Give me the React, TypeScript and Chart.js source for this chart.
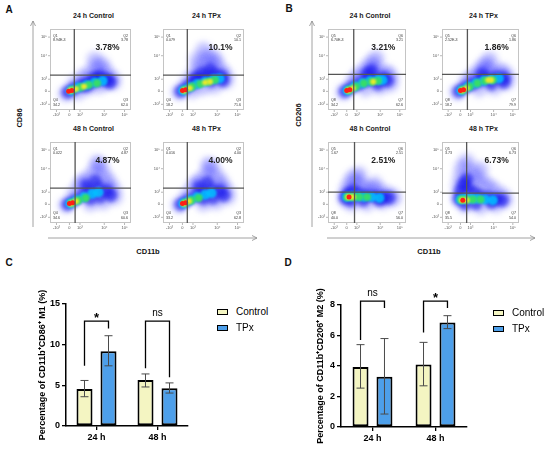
import React, { useEffect, useRef } from "react";
import { Chart, registerables } from "chart.js";

Chart.register(...registerables);

const FONT = "'Liberation Sans', Arial, Helvetica, sans-serif";
Chart.defaults.font.family = FONT;

type Pt = [number, number, number];

// flow density clouds: [CD11b %, marker %, level]
// level 0 = sparse blue ... 5 = red core
const A1_CLOUD: Pt[] = [
  [20, 20, 0], [30, 32, 0], [40, 40, 0], [50, 46, 0], [58, 52, 0], [64, 56, 0], [68, 48, 0], [76, 40, 0],
  [78, 34, 0], [62, 30, 0], [48, 28, 0], [35, 22, 0], [55, 62, 0], [70, 36, 0], [45, 36, 0],
  [22, 22, 1], [30, 27, 1], [40, 31, 1], [50, 34, 1], [60, 37, 1], [70, 38, 1], [74, 34, 1], [62, 42, 1],
  [55, 40, 1], [45, 30, 1],
  [26, 24, 2], [35, 28, 2], [45, 31, 2], [55, 34, 2], [65, 36, 2],
  [28, 25, 3], [38, 28, 3], [48, 31, 3], [58, 33, 3],
  [25, 24, 4], [32, 26, 4], [42, 29, 4],
  [23, 23, 5], [27, 24, 5],
];
const A2_CLOUD: Pt[] = [
  [20, 22, 0], [30, 34, 0], [38, 44, 0], [45, 52, 0], [52, 60, 0], [58, 66, 0], [50, 74, 0], [62, 56, 0],
  [70, 50, 0], [76, 44, 0], [78, 36, 0], [64, 30, 0], [50, 28, 0], [36, 24, 0], [42, 62, 0], [65, 62, 0],
  [22, 23, 1], [30, 29, 1], [38, 34, 1], [46, 38, 1], [55, 42, 1], [64, 44, 1], [72, 42, 1], [74, 36, 1],
  [60, 36, 1], [48, 46, 1], [58, 50, 1], [40, 40, 1],
  [25, 24, 2], [33, 28, 2], [42, 32, 2], [52, 35, 2], [62, 38, 2], [70, 39, 2],
  [27, 25, 3], [36, 29, 3], [46, 32, 3], [56, 35, 3], [64, 37, 3],
  [26, 24, 4], [33, 27, 4], [58, 35, 4], [52, 34, 4],
  [24, 24, 5], [28, 25, 5],
];
const A3_CLOUD: Pt[] = [
  [20, 22, 0], [30, 36, 0], [38, 46, 0], [46, 54, 0], [54, 62, 0], [62, 70, 0], [66, 60, 0], [72, 52, 0],
  [78, 42, 0], [80, 32, 0], [66, 26, 0], [50, 24, 0], [40, 50, 0], [58, 74, 0], [70, 44, 0],
  [22, 23, 1], [30, 28, 1], [40, 34, 1], [50, 40, 1], [60, 44, 1], [70, 40, 1], [75, 34, 1], [62, 32, 1],
  [50, 30, 1], [56, 52, 1], [45, 46, 1],
  [25, 24, 2], [33, 28, 2], [42, 32, 2], [52, 36, 2], [60, 38, 2],
  [27, 25, 3], [35, 28, 3], [44, 31, 3],
  [26, 24, 4], [32, 27, 4],
  [24, 24, 5], [28, 25, 5],
];
const A4_CLOUD: Pt[] = [
  [20, 22, 0], [30, 34, 0], [38, 44, 0], [46, 52, 0], [54, 60, 0], [60, 68, 0], [66, 58, 0], [72, 50, 0],
  [78, 40, 0], [80, 32, 0], [66, 26, 0], [50, 24, 0], [42, 48, 0], [56, 72, 0], [70, 44, 0],
  [22, 23, 1], [30, 28, 1], [40, 33, 1], [50, 38, 1], [60, 42, 1], [70, 40, 1], [75, 34, 1], [62, 31, 1],
  [50, 30, 1], [55, 50, 1], [45, 44, 1],
  [25, 24, 2], [33, 28, 2], [42, 32, 2], [52, 35, 2], [60, 37, 2],
  [27, 25, 3], [35, 28, 3], [44, 31, 3],
  [26, 24, 4], [32, 27, 4],
  [24, 24, 5], [28, 25, 5],
];
const B1_CLOUD: Pt[] = [
  [20, 22, 0], [32, 34, 0], [42, 44, 0], [50, 52, 0], [56, 58, 0], [62, 64, 0], [60, 52, 0], [54, 46, 0],
  [70, 44, 0], [80, 40, 0], [80, 32, 0], [66, 28, 0], [48, 26, 0], [38, 40, 0], [76, 46, 0],
  [22, 23, 1], [30, 28, 1], [40, 32, 1], [50, 36, 1], [60, 38, 1], [70, 40, 1], [76, 36, 1], [64, 32, 1],
  [50, 44, 1], [56, 48, 1],
  [25, 24, 2], [34, 29, 2], [44, 33, 2], [54, 36, 2], [64, 37, 2], [70, 37, 2],
  [27, 25, 3], [36, 29, 3], [46, 33, 3], [56, 35, 3], [64, 36, 3],
  [26, 24, 4], [32, 27, 4], [58, 35, 4],
  [24, 24, 5], [28, 25, 5],
];
const B2_CLOUD: Pt[] = [
  [20, 22, 0], [32, 34, 0], [42, 42, 0], [50, 50, 0], [56, 56, 0], [62, 62, 0], [60, 50, 0], [54, 46, 0],
  [72, 46, 0], [84, 42, 0], [84, 34, 0], [68, 28, 0], [48, 26, 0], [38, 38, 0], [78, 48, 0],
  [22, 23, 1], [30, 28, 1], [40, 32, 1], [50, 36, 1], [60, 39, 1], [70, 41, 1], [80, 40, 1], [80, 34, 1],
  [64, 32, 1], [52, 44, 1],
  [25, 24, 2], [34, 29, 2], [44, 33, 2], [54, 36, 2], [64, 38, 2], [74, 39, 2],
  [27, 25, 3], [36, 29, 3], [46, 33, 3], [56, 36, 3], [66, 37, 3],
  [26, 24, 4], [32, 27, 4], [60, 37, 4], [64, 37, 4],
  [24, 24, 5], [28, 25, 5],
];
const B3_CLOUD: Pt[] = [
  [22, 30, 0], [24, 40, 0], [28, 48, 0], [32, 56, 0], [38, 50, 0], [44, 44, 0], [52, 42, 0], [60, 40, 0],
  [70, 38, 0], [80, 34, 0], [84, 30, 0], [70, 26, 0], [50, 24, 0], [30, 24, 0], [40, 60, 0], [60, 48, 0],
  [22, 31, 1], [26, 36, 1], [32, 40, 1], [40, 36, 1], [50, 34, 1], [60, 33, 1], [70, 32, 1], [78, 31, 1],
  [66, 28, 1], [45, 28, 1], [30, 28, 1],
  [24, 32, 2], [30, 33, 2], [38, 33, 2], [46, 32, 2], [56, 32, 2], [66, 31, 2],
  [25, 32, 3], [32, 32, 3], [40, 32, 3], [50, 32, 3],
  [26, 32, 4], [32, 32, 4],
  [27, 32, 5],
];
const B4_CLOUD: Pt[] = [
  [22, 30, 0], [22, 44, 0], [24, 56, 0], [26, 68, 0], [32, 76, 0], [38, 64, 0], [44, 56, 0], [52, 50, 0],
  [60, 46, 0], [68, 40, 0], [78, 34, 0], [82, 28, 0], [70, 22, 0], [50, 20, 0], [30, 22, 0], [50, 66, 0],
  [36, 48, 0],
  [22, 30, 1], [24, 40, 1], [28, 48, 1], [34, 42, 1], [42, 38, 1], [50, 34, 1], [60, 32, 1], [70, 30, 1],
  [78, 28, 1], [64, 25, 1], [44, 24, 1], [30, 24, 1], [32, 54, 1],
  [24, 29, 2], [30, 30, 2], [38, 30, 2], [46, 30, 2], [56, 29, 2], [66, 28, 2],
  [25, 29, 3], [32, 29, 3], [40, 29, 3], [50, 29, 3],
  [26, 28, 4], [32, 28, 4],
  [27, 28, 5],
];

// quadrant gates [x %, y %]
const A_GATES = [[30, 43], [30, 43], [31, 43], [30, 43]];
const B_GATES = [[33, 44], [33, 44], [34, 38], [32, 37]];

const A_QNAMES = ["Q1", "Q2", "Q4", "Q3"];
const B_QNAMES = ["Q5", "Q6", "Q8", "Q7"];
const A_QVALUES = [
  ["8.94E-3", "3.78", "34.2", "62.0"],
  ["0.079", "10.1", "18.2", "71.6"],
  ["0.022", "4.87", "34.6", "60.6"],
  ["0.016", "4.00", "33.2", "62.8"],
];
const B_QVALUES = [
  ["6.70E-3", "3.21", "34.2", "62.6"],
  ["2.52E-3", "1.86", "18.2", "79.9"],
  ["1.67", "2.51", "40.0", "56.0"],
  ["3.73", "6.73", "35.5", "54.0"],
];
const FLOW_TITLES = ["24 h Control", "24 h TPx", "48 h Control", "48 h TPx"];
const FLOW_XTICKS = [8, 24, 37, 67, 92];
const FLOW_YTICKS = [7, 23, 38, 67, 90];
const FLOW_TICK_LABELS = ["-10³", "0", "10³", "10⁴", "10⁵"];

const LEVEL_COLORS = [
  "rgba(60,60,255,0.3)",
  "rgba(25,25,235,0.65)",
  "rgba(0,195,255,0.85)",
  "rgba(60,225,90,0.9)",
  "rgba(240,235,40,0.95)",
  "rgba(255,30,20,1)",
];
const LEVEL_RADII = [8, 6.5, 5, 4, 3, 2.5];
const LEVEL_BLUR = [3, 2, 1.2, 1, 0.8, 0.6];

// bar charts
const TIMES = ["24 h", "48 h"];
const GROUPS = ["Control", "TPx"];

const M1_CTRL = [4.55, 5.65];
const M1_TPX = [9.2, 4.65];
const M1_LO = [[3.6, 4.8], [7.4, 4.05]];
const M1_HI = [[5.6, 6.4], [11.1, 5.3]];
const M1_BR_TOP = [12.9, 12.9];
const M1_BR_LEFT = [7.4, 7.1];
const M1_BR_RIGHT = [12.0, 6.0];
const M1_SIG = ["*", "ns"];

const M2_CTRL = [3.93, 4.1];
const M2_TPX = [3.3, 6.85];
const M2_LO = [[2.55, 2.7], [0.85, 6.45]];
const M2_HI = [[5.4, 5.55], [5.8, 7.3]];
const M2_BR_TOP = [8.26, 8.26];
const M2_BR_LEFT = [5.7, 6.2];
const M2_BR_RIGHT = [7.8, 7.8];
const M2_SIG = ["ns", "*"];

const CTRL_COLOR = "#f4f5c2";
const TPX_COLOR = "#4d9fea";

function flowDecor(gate: number[], names: string[], quad: string[]) {
  return {
    id: "flowDecor",
    beforeDatasetDraw(chart: any, args: any) {
      chart.ctx.filter = `blur(${LEVEL_BLUR[args.index]}px)`;
    },
    afterDatasetDraw(chart: any) {
      chart.ctx.filter = "none";
    },
    afterDatasetsDraw(chart: any) {
      const { ctx, chartArea: a, scales } = chart;
      const sx = scales.x;
      const sy = scales.y;
      const w = a.right - a.left;
      const h = a.bottom - a.top;
      ctx.save();
      ctx.filter = "none";
      ctx.strokeStyle = "#c4c4c4";
      ctx.lineWidth = 1;
      ctx.strokeRect(a.left + 0.5, a.top + 0.5, w - 1, h - 1);

      const gx = sx.getPixelForValue(gate[0]);
      const gy = sy.getPixelForValue(gate[1]);
      ctx.strokeStyle = "#555";
      ctx.lineWidth = 1.3;
      ctx.beginPath();
      ctx.moveTo(gx, a.top);
      ctx.lineTo(gx, a.bottom);
      ctx.moveTo(a.left, gy);
      ctx.lineTo(a.right, gy);
      ctx.stroke();

      ctx.strokeStyle = "#888";
      ctx.lineWidth = 0.6;
      ctx.fillStyle = "#555";
      ctx.font = `4px ${FONT}`;
      ctx.textAlign = "center";
      ctx.textBaseline = "top";
      FLOW_XTICKS.forEach((v, i) => {
        const px = sx.getPixelForValue(v);
        ctx.beginPath();
        ctx.moveTo(px, a.bottom);
        ctx.lineTo(px, a.bottom + 2);
        ctx.stroke();
        ctx.fillText(FLOW_TICK_LABELS[i], px, a.bottom + 3);
      });
      ctx.textAlign = "right";
      ctx.textBaseline = "middle";
      FLOW_YTICKS.forEach((v, i) => {
        const py = sy.getPixelForValue(v);
        ctx.beginPath();
        ctx.moveTo(a.left - 2, py);
        ctx.lineTo(a.left, py);
        ctx.stroke();
        ctx.fillText(FLOW_TICK_LABELS[i], a.left - 3, py);
      });

      ctx.fillStyle = "#333";
      ctx.font = `3.6px ${FONT}`;
      ctx.textBaseline = "middle";
      ctx.textAlign = "left";
      ctx.fillText(names[0], a.left + 3, a.top + 7);
      ctx.fillText(quad[0], a.left + 3, a.top + 11);
      ctx.fillText(names[2], a.left + 3, a.bottom - 10);
      ctx.fillText(quad[2], a.left + 3, a.bottom - 5);
      ctx.textAlign = "right";
      ctx.fillText(names[1], a.right - 3, a.top + 7);
      ctx.fillText(quad[1], a.right - 3, a.top + 11);
      ctx.fillText(names[3], a.right - 3, a.bottom - 10);
      ctx.fillText(quad[3], a.right - 3, a.bottom - 5);

      ctx.fillStyle = "#222";
      ctx.font = `bold 8.5px ${FONT}`;
      ctx.textAlign = "center";
      ctx.fillText(quad[1] + "%", a.left + 0.71 * w, a.top + 0.23 * h);
      ctx.restore();
    },
  };
}

type FlowProps = {
  x: number;
  y: number;
  w: number;
  h: number;
  title: string;
  cloud: Pt[];
  gate: number[];
  names: string[];
  quad: string[];
};

const FlowPlot: React.FC<FlowProps> = ({ x, y, w, h, title, cloud, gate, names, quad }) => {
  const canvasRef = useRef<HTMLCanvasElement | null>(null);

  useEffect(() => {
    const ctx = canvasRef.current?.getContext("2d");
    if (!ctx) return;
    const datasets = LEVEL_COLORS.map((c, lvl) => ({
      data: cloud.filter((p) => p[2] === lvl).map((p) => ({ x: p[0], y: p[1] })),
      pointRadius: LEVEL_RADII[lvl],
      pointBackgroundColor: c,
      pointBorderWidth: 0,
      pointBorderColor: "rgba(0,0,0,0)",
      order: 5 - lvl,
    }));
    const chart = new Chart(ctx, {
      type: "scatter",
      data: { datasets },
      options: {
        animation: false,
        responsive: false,
        events: [],
        layout: { padding: { left: 14, top: 2, right: 2, bottom: 10 } },
        plugins: { legend: { display: false }, tooltip: { enabled: false } },
        scales: {
          x: { type: "linear", min: 0, max: 100, display: false },
          y: { type: "linear", min: 0, max: 100, display: false },
        },
      },
      plugins: [flowDecor(gate, names, quad)],
    });
    return () => chart.destroy();
  }, []);

  return (
    <>
      <div
        style={{
          position: "absolute",
          left: x,
          top: y - 12,
          width: w,
          textAlign: "center",
          fontSize: 7,
          lineHeight: "9px",
          fontWeight: "bold",
          color: "#222",
        }}
      >
        {title}
      </div>
      <canvas
        ref={canvasRef}
        width={w + 16}
        height={h + 12}
        style={{ position: "absolute", left: x - 14, top: y - 2, width: w + 16, height: h + 12 }}
      />
    </>
  );
};

function barDecor(
  lo: number[][],
  hi: number[][],
  brTop: number[],
  brLeft: number[],
  brRight: number[],
  sig: string[]
) {
  return {
    id: "barDecor",
    afterDatasetsDraw(chart: any) {
      const { ctx } = chart;
      const sy = chart.scales.y;
      ctx.save();
      ctx.strokeStyle = "#4a4a4a";
      ctx.lineWidth = 1;
      [0, 1].forEach((i) => {
        chart.getDatasetMeta(i).data.forEach((bar: any, j: number) => {
          const bx = bar.x;
          const y1 = sy.getPixelForValue(lo[i][j]);
          const y2 = sy.getPixelForValue(hi[i][j]);
          ctx.beginPath();
          ctx.moveTo(bx, y1);
          ctx.lineTo(bx, y2);
          ctx.moveTo(bx - 4, y1);
          ctx.lineTo(bx + 4, y1);
          ctx.moveTo(bx - 4, y2);
          ctx.lineTo(bx + 4, y2);
          ctx.stroke();
        });
      });
      ctx.strokeStyle = "#000";
      ctx.lineWidth = 1.3;
      ctx.fillStyle = "#000";
      ctx.textAlign = "center";
      ctx.textBaseline = "alphabetic";
      brTop.forEach((t, j) => {
        const xl = chart.getDatasetMeta(0).data[j].x;
        const xr = chart.getDatasetMeta(1).data[j].x;
        const yt = sy.getPixelForValue(t);
        ctx.beginPath();
        ctx.moveTo(xl, sy.getPixelForValue(brLeft[j]));
        ctx.lineTo(xl, yt);
        ctx.lineTo(xr, yt);
        ctx.lineTo(xr, sy.getPixelForValue(brRight[j]));
        ctx.stroke();
        if (sig[j] === "*") {
          ctx.font = `bold 13px ${FONT}`;
          ctx.fillText(sig[j], (xl + xr) / 2, yt + 1);
        } else {
          ctx.font = `10px ${FONT}`;
          ctx.fillText(sig[j], (xl + xr) / 2, yt - 5);
        }
      });
      ctx.restore();
    },
  };
}

type BarProps = {
  left: number;
  top: number;
  width: number;
  height: number;
  pad: { left: number; top: number; right: number; bottom: number };
  axisWidth: number;
  catPct: number;
  max: number;
  step: number;
  title: string;
  ctrl: number[];
  tpx: number[];
  lo: number[][];
  hi: number[][];
  brTop: number[];
  brLeft: number[];
  brRight: number[];
  sig: string[];
};

const BarPanel: React.FC<BarProps> = (p) => {
  const canvasRef = useRef<HTMLCanvasElement | null>(null);

  useEffect(() => {
    const ctx = canvasRef.current?.getContext("2d");
    if (!ctx) return;
    const tickFont = { size: 9, weight: "bold" as const, family: FONT };
    const chart = new Chart(ctx, {
      type: "bar",
      data: {
        labels: TIMES,
        datasets: [
          {
            label: GROUPS[0],
            data: p.ctrl,
            backgroundColor: CTRL_COLOR,
            borderColor: "#000",
            borderWidth: 2,
            borderSkipped: false,
            categoryPercentage: p.catPct,
            barPercentage: 0.667,
          },
          {
            label: GROUPS[1],
            data: p.tpx,
            backgroundColor: TPX_COLOR,
            borderColor: "#000",
            borderWidth: 2,
            borderSkipped: false,
            categoryPercentage: p.catPct,
            barPercentage: 0.667,
          },
        ],
      },
      options: {
        animation: false,
        responsive: false,
        events: [],
        layout: { padding: p.pad },
        plugins: { legend: { display: false }, tooltip: { enabled: false } },
        scales: {
          x: {
            grid: { offset: false, drawOnChartArea: false, color: "#000", lineWidth: 1.3, tickLength: 4 },
            border: { color: "#000", width: 1.5 },
            ticks: { color: "#000", font: tickFont, padding: 2 },
            afterFit: (scale: any) => {
              scale.height = 22;
            },
          },
          y: {
            min: 0,
            max: p.max,
            grid: { drawOnChartArea: false, color: "#000", lineWidth: 1.3, tickLength: 4 },
            border: { color: "#000", width: 1.5 },
            ticks: { stepSize: p.step, color: "#000", font: tickFont, padding: 2 },
            title: {
              display: true,
              text: p.title,
              color: "#000",
              font: { size: 9, weight: "bold", family: FONT },
              padding: 0,
            },
            afterFit: (scale: any) => {
              scale.width = p.axisWidth;
            },
          },
        },
      },
      plugins: [barDecor(p.lo, p.hi, p.brTop, p.brLeft, p.brRight, p.sig)],
    });
    return () => chart.destroy();
  }, []);

  return (
    <canvas
      ref={canvasRef}
      width={p.width}
      height={p.height}
      style={{ position: "absolute", left: p.left, top: p.top, width: p.width, height: p.height }}
    />
  );
};

const Legend: React.FC<{ x: number; y: number }> = ({ x, y }) => (
  <>
    {GROUPS.map((g, i) => (
      <div
        key={g}
        style={{ position: "absolute", left: x, top: y + i * 16, height: 10, display: "flex", alignItems: "center" }}
      >
        <div
          style={{
            width: 9,
            height: 4,
            border: "1.5px solid #000",
            background: i === 0 ? CTRL_COLOR : TPX_COLOR,
            marginRight: 8,
          }}
        />
        <span style={{ fontSize: 10, lineHeight: "10px", color: "#000" }}>{g}</span>
      </div>
    ))}
  </>
);

const Text: React.FC<{
  x: number;
  y: number;
  size: number;
  bold?: boolean;
  rotate?: boolean;
  children: React.ReactNode;
}> = ({ x, y, size, bold, rotate, children }) => (
  <div
    style={{
      position: "absolute",
      left: x,
      top: y,
      fontSize: size,
      lineHeight: 1,
      fontWeight: bold ? "bold" : "normal",
      whiteSpace: "nowrap",
      color: "#111",
      transform: `translate(-50%, -50%)${rotate ? " rotate(-90deg)" : ""}`,
    }}
  >
    {children}
  </div>
);

const A_CLOUDS = [A1_CLOUD, A2_CLOUD, A3_CLOUD, A4_CLOUD];
const B_CLOUDS = [B1_CLOUD, B2_CLOUD, B3_CLOUD, B4_CLOUD];

const App: React.FC = () => {
  const aBoxes = [
    [50, 23, 87, 87],
    [163, 23, 87, 87],
    [50, 136, 87, 87],
    [163, 136, 87, 87],
  ];
  const bBoxes = [
    [328, 23, 84, 87],
    [442, 23, 83, 87],
    [328, 136, 84, 87],
    [442, 136, 83, 87],
  ];

  return (
    <div
      style={{
        position: "absolute",
        left: 0,
        top: 0,
        width: 550,
        height: 459,
        background: "#fff",
        overflow: "hidden",
        fontFamily: FONT,
      }}
    >
      <svg width={550} height={459} style={{ position: "absolute", left: 0, top: 0 }}>
        <g stroke="#8c8c8c" strokeWidth={0.8} fill="none">
          <line x1={33} y1={227} x2={33} y2={21} />
          <polyline points="30.5,26 33,21 35.5,26" />
          <line x1={48} y1={238} x2={257} y2={238} />
          <polyline points="252,235.5 257,238 252,240.5" />
          <line x1={312} y1={227} x2={312} y2={21} />
          <polyline points="309.5,26 312,21 314.5,26" />
          <line x1={327} y1={238} x2={535} y2={238} />
          <polyline points="530,235.5 535,238 530,240.5" />
        </g>
      </svg>

      {aBoxes.map((b, i) => (
        <FlowPlot
          key={"a" + i}
          x={b[0]}
          y={b[1]}
          w={b[2]}
          h={b[3]}
          title={FLOW_TITLES[i]}
          cloud={A_CLOUDS[i]}
          gate={A_GATES[i]}
          names={A_QNAMES}
          quad={A_QVALUES[i]}
        />
      ))}
      {bBoxes.map((b, i) => (
        <FlowPlot
          key={"b" + i}
          x={b[0]}
          y={b[1]}
          w={b[2]}
          h={b[3]}
          title={FLOW_TITLES[i]}
          cloud={B_CLOUDS[i]}
          gate={B_GATES[i]}
          names={B_QNAMES}
          quad={B_QVALUES[i]}
        />
      ))}

      <Text x={9} y={10} size={10} bold>A</Text>
      <Text x={289} y={9} size={10} bold>B</Text>
      <Text x={9} y={263} size={10} bold>C</Text>
      <Text x={288} y={263} size={10} bold>D</Text>
      <Text x={20} y={118} size={7.5} bold rotate>CD86</Text>
      <Text x={299} y={115} size={7.5} bold rotate>CD206</Text>
      <Text x={148} y={252} size={7.5} bold>CD11b</Text>
      <Text x={429} y={252} size={7.5} bold>CD11b</Text>

      <BarPanel
        left={0}
        top={282}
        width={195}
        height={168}
        pad={{ left: 37, top: 22, right: 7, bottom: 2 }}
        axisWidth={29}
        catPct={0.787}
        max={15}
        step={5}
        title="Percentage of CD11b⁺CD86⁺ M1 (%)"
        ctrl={M1_CTRL}
        tpx={M1_TPX}
        lo={M1_LO}
        hi={M1_HI}
        brTop={M1_BR_TOP}
        brLeft={M1_BR_LEFT}
        brRight={M1_BR_RIGHT}
        sig={M1_SIG}
      />
      <BarPanel
        left={280}
        top={282}
        width={190}
        height={168}
        pad={{ left: 35, top: 23, right: 3, bottom: 1 }}
        axisWidth={26}
        catPct={0.76}
        max={8}
        step={2}
        title="Percentage of CD11b⁺CD206⁺ M2 (%)"
        ctrl={M2_CTRL}
        tpx={M2_TPX}
        lo={M2_LO}
        hi={M2_HI}
        brTop={M2_BR_TOP}
        brLeft={M2_BR_LEFT}
        brRight={M2_BR_RIGHT}
        sig={M2_SIG}
      />
      <Legend x={217} y={307} />
      <Legend x={493} y={308} />
    </div>
  );
};

export default App;
